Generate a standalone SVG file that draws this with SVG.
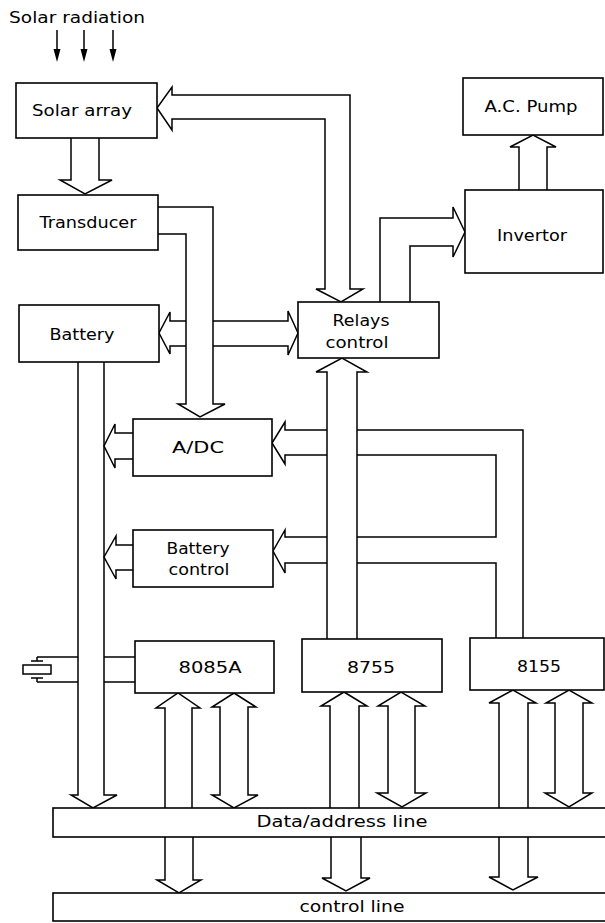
<svg xmlns="http://www.w3.org/2000/svg" width="605" height="923" viewBox="0 0 605 923">
<style>
.box{fill:#fff;stroke:#000;stroke-width:1.6}
.ln{fill:none;stroke:#000;stroke-width:1.5;stroke-linejoin:miter}
.ar{fill:#fff;stroke:#000;stroke-width:1.5;stroke-linejoin:miter}
.t{font-family:"DejaVu Sans","Liberation Sans",sans-serif;font-size:15px;fill:#000;text-anchor:middle}
</style>
<rect width="605" height="923" fill="#fff"/>

<g id="solar-radiation">
<text class="t" x="77" y="23" textLength="136" lengthAdjust="spacingAndGlyphs">Solar radiation</text>
<path class="ln" d="M57,30V52M84,30V52M113,30V52"/>
<path d="M53.5,49L60.5,49L57,62ZM80.5,49L87.5,49L84,62ZM109.5,49L116.5,49L113,62Z" fill="#000"/>
</g>

<g id="connectors">
<path class="ar" d="M172,95H350V289H363L341,302L316,289H325V119H172V130L157,108L172,87Z"/>
<path class="ln" d="M71,138V180H60L85,194L112,180H99V138"/>
<path class="ln" d="M158,207H213V404H225L200,417L178,404H186V234H158"/>
<path class="ln" d="M186,321H170V312L159,333L170,354V346H186"/>
<path class="ln" d="M213,321H288V311L298,333L288,355V346H213"/>
<path class="ln" d="M380,302V218H453V207L465,232L453,257V246H410V302"/>
<path class="ln" d="M519,190V147H510L533,135L556,147H547V190"/>
<path class="ln" d="M78,362V795H71L93,808L117,795H104V362"/>
<path class="ln" d="M133,433H115V424L104,446L115,468V459H133"/>
<path class="ln" d="M133,545H116V536L104,557L116,579V570H133"/>
<path class="ln" d="M327,430H285V422L272,443L285,464V455H327"/>
<path class="ln" d="M327,537H285V530L273,551L285,573V563H327"/>
<path class="ln" d="M357,430H523V638M357,455H496V537H357M357,563H496V638"/>
<path class="ln" d="M327,639V372H316L342,358L367,372H357V639"/>
<path class="ln" d="M37,657H78M37,682H78M104,657H135M104,682H135"/>
<path class="ln" d="M37,657V661M31,661H43M31,678H43M37,678V682"/>
<rect class="ln" x="23" y="665" width="28" height="9"/>
<path class="ln" d="M165,808V708H156L178,693L200,708H192V808"/>
<path class="ln" d="M165,837V880H157L179,893L201,880H193V837"/>
<path class="ar" d="M220,795V707H212L234,693L256,707H248V795H258L234,808L212,795Z"/>
<path class="ln" d="M330,808V706H321L344,692L367,706H359V808"/>
<path class="ln" d="M331,837V878H322L346,891L370,878H361V837"/>
<path class="ar" d="M388,793V706H378L401,692L425,706H415V793H426L402,807L377,793Z"/>
<path class="ln" d="M499,808V703H489L513,690L536,703H528V808"/>
<path class="ln" d="M499,837V877H489L513,890L538,877H528V837"/>
<path class="ar" d="M555,793V703H546L569,690L592,703H583V793H592L569,807L545,793Z"/>
</g>

<g id="solar-array"><rect class="box" x="16" y="83" width="141" height="55"/><text class="t" x="82" y="116" textLength="100" lengthAdjust="spacingAndGlyphs">Solar array</text></g>
<g id="transducer"><rect class="box" x="18" y="195" width="140" height="55"/><text class="t" x="88" y="228" textLength="97" lengthAdjust="spacingAndGlyphs">Transducer</text></g>
<g id="battery"><rect class="box" x="19" y="305" width="140" height="57"/><text class="t" x="82" y="340" textLength="65" lengthAdjust="spacingAndGlyphs">Battery</text></g>
<g id="relays-control"><rect class="box" x="298" y="302" width="141" height="56"/><text class="t" x="361" y="326" textLength="57" lengthAdjust="spacingAndGlyphs">Relays</text><text class="t" x="357" y="348" textLength="63" lengthAdjust="spacingAndGlyphs">control</text></g>
<g id="ac-pump"><rect class="box" x="463" y="78" width="140" height="57"/><text class="t" x="531" y="112" textLength="93" lengthAdjust="spacingAndGlyphs">A.C. Pump</text></g>
<g id="invertor"><rect class="box" x="465" y="190" width="138" height="83"/><text class="t" x="532" y="241" textLength="70" lengthAdjust="spacingAndGlyphs">Invertor</text></g>
<g id="adc"><rect class="box" x="133" y="419" width="139" height="57"/><text class="t" x="198" y="453" textLength="52" lengthAdjust="spacingAndGlyphs">A/DC</text></g>
<g id="battery-control"><rect class="box" x="133" y="530" width="140" height="57"/><text class="t" x="198" y="554" textLength="63" lengthAdjust="spacingAndGlyphs">Battery</text><text class="t" x="199" y="575" textLength="61" lengthAdjust="spacingAndGlyphs">control</text></g>
<g id="cpu-8085a"><rect class="box" x="135" y="641" width="139" height="52"/><text class="t" x="210" y="673" textLength="63" lengthAdjust="spacingAndGlyphs">8085A</text></g>
<g id="eprom-8755"><rect class="box" x="302" y="639" width="140" height="53"/><text class="t" x="371" y="673" textLength="48" lengthAdjust="spacingAndGlyphs">8755</text></g>
<g id="ram-8155"><rect class="box" x="470" y="638" width="134" height="52"/><text class="t" x="539" y="672" textLength="44" lengthAdjust="spacingAndGlyphs">8155</text></g>
<g id="data-address-line"><rect class="box" x="53" y="808" width="560" height="29"/><text class="t" x="342" y="827" textLength="171" lengthAdjust="spacingAndGlyphs">Data/address line</text></g>
<g id="control-line"><rect class="box" x="53" y="893" width="560" height="28"/><text class="t" x="352" y="912" textLength="105" lengthAdjust="spacingAndGlyphs">control line</text></g>
</svg>
